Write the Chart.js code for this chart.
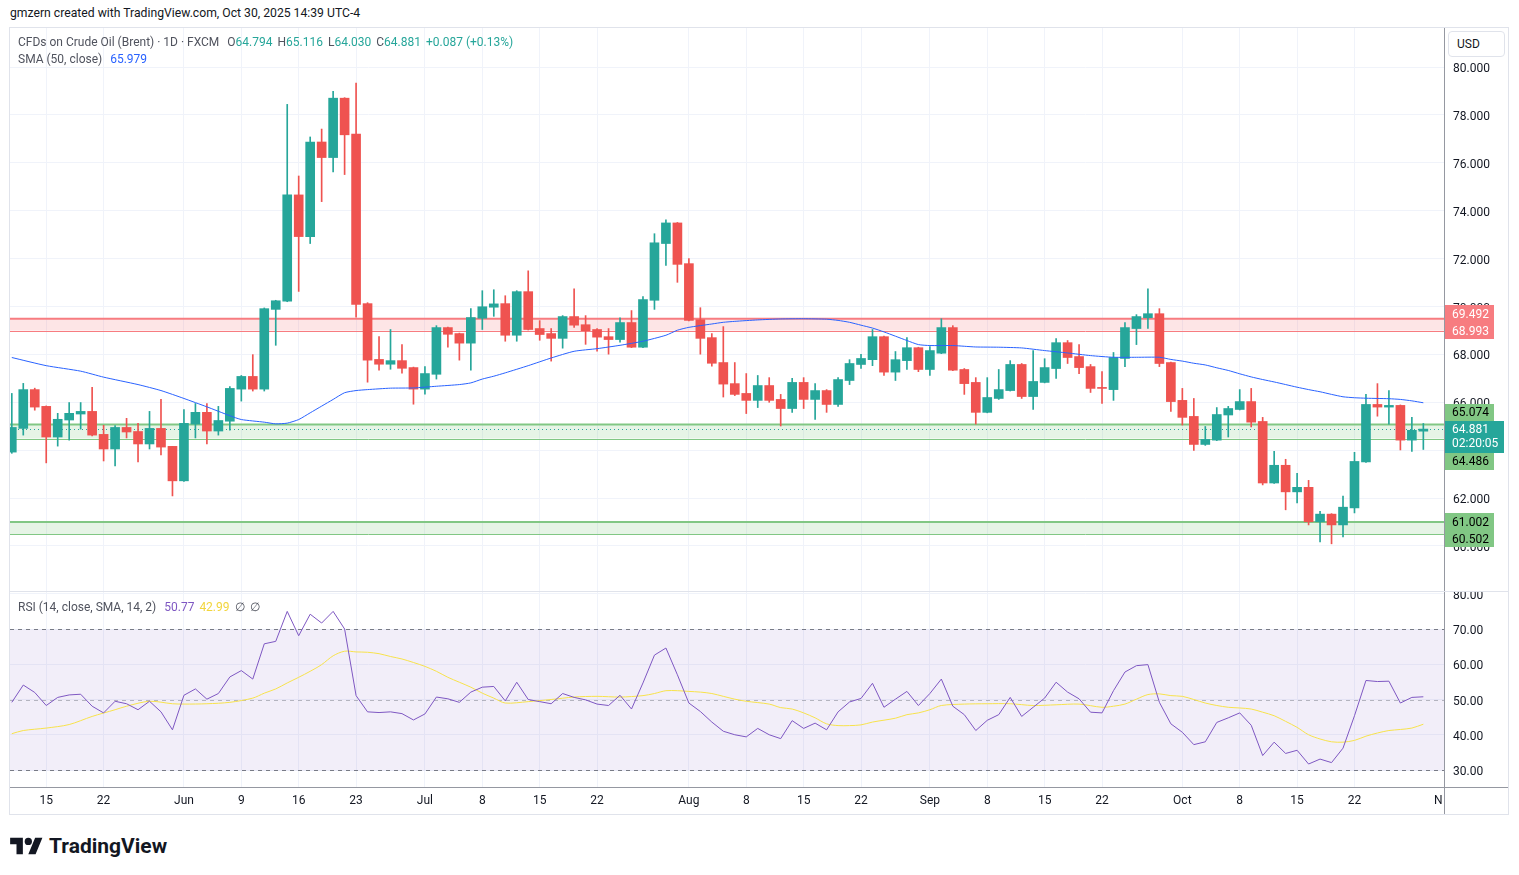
<!DOCTYPE html>
<html>
<head>
<meta charset="utf-8">
<script src="https://cdn.jsdelivr.net/npm/chart.js@4/dist/chart.umd.min.js"></script>
<style>
  body { margin: 0; background: #fff; width: 1519px; height: 875px; overflow: hidden; position: relative;
         font-family: Roboto, "Noto Sans", sans-serif; color: #131722; }
  canvas { position: absolute; }
  .abs { position: absolute; white-space: nowrap; }
  #credit { left: 10px; top: 6px; font-size: 12.2px; }
  #frame { left: 9px; top: 27px; width: 1500px; height: 788px; border: 1px solid #e0e3eb; box-sizing: border-box; }
  .leg { font-size: 12px; color: #50535e; z-index: 3; }
  .leg .v { color: #26a69a; }
  .leg .g { margin-left: 5px; }
  #usd { left: 1448px; top: 31px; width: 57px; height: 26px; border: 1px solid #e0e3eb; border-radius: 4px;
         box-sizing: border-box; font-size: 12px; line-height: 24px; padding-left: 8px; background: #fff; z-index: 3; }
  .sep { position: absolute; z-index: 2; }
  #logo { left: 10px; top: 834px; display: flex; align-items: center; gap: 6px; font-size: 21px; font-weight: bold; color: #131722; }
</style>
</head>
<body>
<div id="credit" class="abs">gmzern created with TradingView.com, Oct 30, 2025 14:39 UTC-4</div>
<div id="frame" class="abs"></div>

<canvas id="price" width="1498" height="563" style="left:10px;top:28px"></canvas>
<canvas id="rsi" width="1498" height="222" style="left:10px;top:592px"></canvas>

<div class="sep" style="left:1444px;top:28px;width:1px;height:786px;background:#9598a1"></div>
<div class="sep" style="left:10px;top:591px;width:1498px;height:1px;background:#e0e3eb"></div>
<div class="sep" style="left:10px;top:787px;width:1498px;height:1px;background:#9598a1"></div>

<div id="usd" class="abs">USD</div>

<div class="abs leg" style="left:18px;top:35px">CFDs on Crude Oil (Brent) · 1D · FXCM
  <span class="g">O<span class="v">64.794</span></span><span class="g">H<span class="v">65.116</span></span><span class="g">L<span class="v">64.030</span></span><span class="g">C<span class="v">64.881</span></span><span class="g v">+0.087 (+0.13%)</span></div>
<div class="abs leg" style="left:18px;top:52px">SMA (50, close) <span class="g" style="color:#2962ff">65.979</span></div>
<div class="abs leg" style="left:18px;top:600px">RSI (14, close, SMA, 14, 2) <span class="g" style="color:#7e57c2">50.77</span><span class="g" style="color:#f2d53c">42.99</span><span class="g">∅</span><span class="g">∅</span></div>

<div id="logo" class="abs">
  <svg width="33" height="20" viewBox="0 0 36 22"><path d="M14 20H7V9H0V2h14v18zM28 20h-8l7.5-18h8L28 20z" fill="#131722"/><circle cx="20" cy="6" r="4" fill="#131722"/></svg>
  <span>TradingView</span>
</div>

<script>
// daily candles, FXCM Brent CFD, 12 May 2025 (index 0) .. 30 Oct 2025 (index 123)
const open = [
  63.92, 64.91, 66.53, 65.83, 64.55, 65.26, 65.51, 65.62, 64.66, 64.05,
  64.95, 64.78, 64.26, 64.91, 64.16, 62.72, 65.09, 65.58, 64.80, 65.21,
  66.55, 67.08, 66.55, 69.88, 70.22, 74.66, 72.92, 76.87, 76.22, 78.70,
  77.20, 70.12, 67.79, 67.59, 67.74, 67.45, 66.55, 67.17, 69.12, 68.87,
  68.47, 69.51, 69.97, 70.12, 68.80, 70.62, 69.08, 68.87, 68.67, 69.58,
  69.24, 69.04, 68.74, 68.62, 69.33, 68.30, 70.26, 72.63, 73.49, 71.79,
  69.45, 68.70, 67.66, 66.78, 66.37, 66.08, 66.70, 66.12, 65.74, 66.83,
  66.12, 66.49, 65.91, 66.91, 67.58, 67.78, 68.74, 67.26, 67.74, 68.28,
  67.37, 68.05, 69.12, 67.37, 66.83, 65.58, 66.16, 66.49, 67.58, 66.24,
  66.83, 67.41, 68.49, 67.91, 67.49, 66.62, 66.53, 67.83, 69.08, 69.53,
  69.70, 67.66, 66.08, 65.41, 64.24, 64.42, 65.47, 65.70, 66.03, 65.20,
  62.63, 63.37, 62.26, 62.45, 61.01, 61.33, 60.88, 61.59, 63.51, 65.91,
  65.80, 65.87, 64.42, 64.794
];
const high = [
  66.37, 66.79, 66.59, 65.85, 65.54, 65.99, 65.99, 66.62, 65.04, 65.03,
  65.33, 65.12, 65.62, 66.12, 64.16, 65.70, 65.95, 65.95, 65.83, 66.66,
  67.12, 67.99, 69.94, 70.26, 78.44, 75.45, 77.08, 77.41, 78.99, 78.72,
  79.33, 70.16, 68.74, 69.04, 68.41, 67.47, 67.49, 69.20, 69.14, 68.89,
  69.91, 70.66, 70.70, 70.45, 70.66, 71.49, 69.41, 69.08, 69.62, 70.74,
  69.62, 69.08, 69.08, 69.53, 69.83, 70.41, 73.04, 73.62, 73.51, 72.00,
  69.95, 68.87, 69.16, 67.66, 67.20, 67.12, 67.03, 66.33, 67.00, 67.03,
  66.78, 66.53, 67.03, 67.78, 68.00, 69.04, 68.76, 68.12, 68.70, 68.30,
  68.33, 69.49, 69.20, 67.41, 67.03, 67.03, 67.37, 67.74, 67.62, 68.16,
  67.82, 68.66, 68.58, 68.41, 67.58, 67.28, 68.08, 69.33, 69.66, 70.74,
  69.91, 67.68, 66.58, 66.16, 64.99, 65.78, 65.83, 66.53, 66.58, 65.37,
  63.95, 63.62, 63.03, 62.74, 61.45, 61.35, 62.08, 63.91, 66.33, 66.78,
  66.49, 65.89, 65.37, 65.116
];
const low = [
  63.87, 64.63, 65.67, 63.47, 64.17, 64.42, 64.88, 64.60, 63.55, 63.34,
  64.51, 63.51, 64.05, 63.80, 62.09, 62.70, 64.51, 64.26, 64.63, 64.84,
  66.05, 66.47, 66.47, 68.38, 70.20, 70.63, 72.63, 74.38, 75.62, 75.51,
  69.55, 66.84, 67.34, 67.38, 67.22, 65.92, 66.34, 66.97, 68.30, 67.76,
  67.34, 69.04, 69.59, 68.55, 68.55, 69.02, 68.59, 67.72, 68.26, 69.13,
  68.42, 68.13, 68.01, 68.51, 68.28, 68.28, 69.88, 71.72, 71.01, 69.40,
  68.01, 67.51, 66.22, 66.28, 65.53, 65.78, 66.00, 65.01, 65.58, 65.74,
  65.28, 65.58, 65.83, 66.74, 67.41, 67.53, 67.12, 66.91, 67.37, 67.28,
  67.12, 68.03, 67.32, 66.33, 65.09, 65.56, 66.12, 66.47, 66.16, 65.70,
  66.81, 67.00, 67.62, 67.20, 66.41, 65.95, 66.08, 67.49, 68.41, 69.08,
  67.49, 65.62, 65.05, 63.99, 64.20, 64.40, 64.55, 65.68, 64.97, 62.55,
  62.61, 61.51, 61.80, 60.88, 60.17, 60.09, 60.38, 61.38, 63.49, 65.42,
  65.09, 64.01, 63.95, 64.030
];
const close = [
  64.95, 66.53, 65.80, 64.55, 65.29, 65.54, 65.62, 64.63, 64.05, 64.95,
  64.76, 64.26, 64.91, 64.13, 62.72, 65.12, 65.58, 64.80, 65.24, 66.58,
  67.08, 66.55, 69.91, 70.24, 74.66, 72.92, 76.87, 76.22, 78.70, 77.17,
  70.09, 67.76, 67.59, 67.74, 67.42, 66.55, 67.20, 69.12, 68.84, 68.47,
  69.54, 69.99, 70.11, 68.80, 70.62, 69.04, 68.83, 68.67, 69.58, 69.22,
  68.99, 68.72, 68.62, 69.33, 68.30, 70.29, 72.66, 73.49, 71.76, 69.42,
  68.67, 67.63, 66.76, 66.33, 66.08, 66.70, 66.08, 65.74, 66.83, 66.12,
  66.49, 65.91, 66.95, 67.62, 67.83, 68.74, 67.26, 67.78, 68.28, 67.37,
  68.16, 69.12, 67.34, 66.78, 65.58, 66.20, 66.53, 67.58, 66.24, 66.87,
  67.45, 68.49, 67.87, 67.45, 66.58, 66.58, 67.87, 69.12, 69.58, 69.70,
  67.62, 66.03, 65.37, 64.24, 64.45, 65.49, 65.74, 66.03, 65.17, 62.63,
  63.37, 62.26, 62.45, 61.01, 61.33, 60.88, 61.62, 63.53, 65.91, 65.80,
  65.87, 64.42, 64.83, 64.881
];

// SMA(50, close)
const smaIdx = [0, 3, 6, 8, 11, 13, 15, 17, 19, 20, 22, 23, 24, 25, 26, 27, 28, 29, 30, 31,
  33, 35, 37, 39, 40, 41, 42, 43, 45, 47, 49, 51, 53, 55, 57, 58, 59, 61, 62, 63,
  65, 67, 69, 71, 72, 73, 74, 75, 76, 77, 78, 79, 80, 82, 83, 84, 86, 88, 90, 92,
  94, 96, 98, 100, 101, 102, 103, 104, 105, 106, 107, 108, 109, 110, 111, 112, 113, 114, 115, 116,
  117, 118, 119, 120, 121, 122, 123];
const smaVal = [67.87, 67.53, 67.30, 67.05, 66.74, 66.49, 66.16, 65.81, 65.44, 65.28, 65.17, 65.10, 65.13, 65.28, 65.56, 65.84, 66.12, 66.40, 66.49, 66.53,
  66.59, 66.60, 66.67, 66.74, 66.81, 66.97, 67.09, 67.23, 67.53, 67.85, 68.13, 68.24, 68.38, 68.55, 68.80, 69.01, 69.13, 69.27, 69.34, 69.38,
  69.44, 69.48, 69.49, 69.47, 69.42, 69.34, 69.22, 69.10, 68.94, 68.76, 68.58, 68.41, 68.37, 68.37, 68.34, 68.31, 68.30, 68.27, 68.16, 68.06,
  67.95, 67.88, 67.88, 67.88, 67.79, 67.72, 67.63, 67.56, 67.44, 67.33, 67.19, 67.06, 66.95, 66.85, 66.74, 66.63, 66.53, 66.44, 66.33, 66.23,
  66.19, 66.17, 66.16, 66.15, 66.12, 66.06, 65.98];

// RSI(14) per candle and its SMA(14)
const rsi = [
  49.2, 54.1, 52.0, 48.3, 50.6, 51.3, 51.5, 48.1, 46.2, 49.5,
  48.8, 47.1, 49.5, 46.5, 41.4, 51.2, 53.0, 50.1, 51.7, 56.4,
  58.2, 55.8, 65.8, 66.5, 75.0, 68.1, 74.2, 71.7, 75.0, 70.0,
  51.1, 46.5, 46.3, 46.5, 46.0, 44.2, 45.9, 50.7, 50.2, 49.2,
  52.1, 53.5, 53.7, 49.6, 54.9, 50.0, 49.4, 48.8, 51.7, 50.6,
  49.9, 48.7, 48.3, 51.2, 47.3, 54.7, 62.6, 64.6, 57.0, 49.0,
  46.6, 43.6, 41.0, 40.0, 39.4, 41.8, 40.0, 38.9, 44.0, 41.8,
  43.3, 41.4, 46.5, 49.3, 50.3, 54.6, 47.8, 50.1, 52.3, 48.3,
  51.7, 55.8, 48.1, 45.7, 41.2, 44.1, 45.7, 50.6, 45.2, 47.8,
  50.4, 54.9, 52.1, 50.2, 46.4, 46.2, 52.5, 57.8, 59.6, 59.9,
  49.2, 43.1, 40.7, 37.2, 38.0, 43.5, 44.8, 46.2, 42.7, 34.1,
  37.9, 34.7, 35.6, 31.7, 33.1, 32.1, 36.2, 45.4, 55.4, 55.1,
  55.2, 49.0, 50.6, 50.77
];
const rsiMaIdx = [0, 1, 3, 5, 7, 9, 10, 12, 14, 15, 17, 19, 21, 22, 23, 24, 25, 26, 27, 28,
  29, 30, 31, 32, 33, 34, 35, 36, 37, 38, 39, 40, 41, 42, 43, 45, 47, 49, 51, 53,
  55, 56, 57, 58, 59, 60, 61, 62, 63, 64, 66, 67, 68, 69, 70, 71, 72, 73, 74, 75,
  77, 78, 79, 80, 81, 83, 85, 87, 89, 91, 93, 95, 96, 97, 98, 99, 100, 101, 102, 103,
  104, 105, 106, 107, 108, 109, 110, 111, 112, 113, 114, 115, 116, 117, 118, 119, 120, 121, 122, 123];
const rsiMaVal = [40.3, 41.2, 41.9, 42.9, 45.2, 47.1, 48.1, 49.5, 48.8, 48.7, 48.8, 49.2, 50.4, 51.8, 53.0, 54.7, 56.3, 58.0, 59.9, 62.4,
  63.7, 63.5, 63.4, 63.0, 62.2, 61.5, 60.5, 59.4, 58.0, 56.3, 54.9, 53.5, 51.8, 50.4, 49.0, 49.4, 50.0, 50.7, 50.9, 50.7,
  51.1, 51.7, 52.5, 52.5, 52.3, 52.1, 51.7, 50.9, 50.1, 49.5, 48.7, 47.7, 47.3, 46.2, 44.8, 43.1, 42.6, 42.6, 42.8, 43.6,
  44.7, 45.7, 46.2, 47.1, 48.3, 48.7, 48.8, 48.8, 48.3, 48.5, 48.7, 47.8, 48.1, 48.7, 50.1, 51.4, 51.6, 51.1, 50.9, 50.0,
  49.0, 48.3, 47.8, 47.6, 47.3, 46.4, 45.4, 43.8, 42.1, 40.0, 38.8, 38.0, 37.9, 38.4, 39.6, 40.5, 41.2, 41.5, 41.9, 42.99];

// time axis
const tickIdx = [3, 8, 15, 20, 25, 30, 36, 41, 46, 51, 59, 64, 69, 74, 80, 85, 90, 95, 102, 107, 112, 117, 124.3];
const tickLabels = ['15', '22', 'Jun', '9', '16', '23', 'Jul', '8', '15', '22', 'Aug', '8', '15', '22', 'Sep', '8', '15', '22', 'Oct', '8', '15', '22', 'N'];
const priceTicks = [60, 62, 64, 66, 68, 70, 72, 74, 76, 78, 80];
const rsiTicks = [30, 40, 50, 60, 70, 80];

// drawn zones and axis tags
const zoneTop = [69.492, 65.074, 61.002];
const zoneBottom = [68.993, 64.486, 60.502];
const zoneKind = ['res', 'sup', 'sup'];
const lastPrice = 64.881;
const countdown = '02:20:05';

const UP = '#26a69a', DOWN = '#ef5350', GRID = '#f0f3fa';
const font = { family: 'Roboto, "Noto Sans", sans-serif', size: 12 };

function xScale(showLabels) {
  return {
    type: 'linear', min: -0.157, max: 124.8, offset: false,
    afterBuildTicks: a => { a.ticks = tickIdx.map(v => ({ value: v })); },
    afterFit: a => { a.height = showLabels ? 27 : 0; a.paddingLeft = 0; a.paddingRight = 0; },
    ticks: { display: showLabels, autoSkip: false, maxRotation: 0, padding: 7, color: '#131722', font,
             callback: (v, k) => tickLabels[k] },
    grid: { offset: false, drawTicks: false, color: c => c.index === tickIdx.length - 1 ? 'rgba(0,0,0,0)' : GRID },
    border: { display: false }
  };
}

function yScale(min, max, ticks, digits) {
  return {
    position: 'right', min, max,
    afterBuildTicks: a => { a.ticks = ticks.map(v => ({ value: v })); },
    afterFit: a => { a.width = 64; a.paddingTop = 0; a.paddingBottom = 0; },
    ticks: { padding: 9, labelOffset: 2, color: '#131722', font, crossAlign: 'near', callback: v => v.toFixed(digits) },
    grid: { drawTicks: false, color: GRID },
    border: { display: false }
  };
}

const candleColors = close.map((c, i) => c >= open[i] ? UP : DOWN);

const zonesPlugin = {
  id: 'zones',
  beforeDatasetsDraw(chart) {
    const { ctx, chartArea: a, scales: { y } } = chart;
    ctx.save();
    zoneTop.forEach((t, k) => {
      const y1 = y.getPixelForValue(t), y2 = y.getPixelForValue(zoneBottom[k]);
      const line = zoneKind[k] === 'res' ? '#f77c80' : '#81c784';
      ctx.fillStyle = zoneKind[k] === 'res' ? 'rgba(247,124,128,0.2)' : 'rgba(129,199,132,0.2)';
      ctx.fillRect(a.left, y1, a.right - a.left, y2 - y1);
      ctx.strokeStyle = line;
      ctx.lineWidth = 2;
      ctx.beginPath(); ctx.moveTo(a.left, y1); ctx.lineTo(a.right, y1); ctx.stroke();
      ctx.lineWidth = 1;
      ctx.beginPath(); ctx.moveTo(a.left, Math.round(y2) + 0.5); ctx.lineTo(a.right, Math.round(y2) + 0.5); ctx.stroke();
    });
    const yl = Math.round(y.getPixelForValue(lastPrice)) + 0.5;
    ctx.strokeStyle = UP;
    ctx.setLineDash([1, 3]);
    ctx.beginPath(); ctx.moveTo(a.left, yl); ctx.lineTo(a.right, yl); ctx.stroke();
    ctx.restore();
  },
  afterDraw(chart) {
    const { ctx, chartArea: a, scales: { y } } = chart;
    const h = 17;
    const tags = [];
    zoneTop.forEach((t, k) => {
      const bg = zoneKind[k] === 'res' ? '#f77c80' : '#81c784';
      const fg = zoneKind[k] === 'res' ? '#ffffff' : '#000000';
      tags.push({ v: t, bg, fg }, { v: zoneBottom[k], bg, fg });
    });
    // current price tag is anchored, the others are pushed away from it
    const cy = y.getPixelForValue(lastPrice);
    const curTop = cy - h / 2, curBot = curTop + 2 * h - 2;
    const above = tags.filter(t => t.v > lastPrice).sort((p, q) => p.v - q.v);
    const below = tags.filter(t => t.v <= lastPrice).sort((p, q) => q.v - p.v);
    let lim = curTop;
    above.forEach(t => { t.c = Math.min(y.getPixelForValue(t.v), lim - h / 2); lim = t.c - h / 2; });
    lim = curBot;
    below.forEach(t => { t.c = Math.max(y.getPixelForValue(t.v), lim + h / 2); lim = t.c + h / 2; });
    ctx.save();
    ctx.font = '12px Roboto, "Noto Sans", sans-serif';
    ctx.textBaseline = 'middle';
    tags.forEach(t => {
      ctx.fillStyle = t.bg;
      ctx.fillRect(a.right + 1, Math.round(t.c - h / 2), 49, h);
      ctx.fillStyle = t.fg;
      ctx.fillText(t.v.toFixed(3), a.right + 8, t.c + 1);
    });
    ctx.fillStyle = UP;
    ctx.fillRect(a.right + 1, Math.round(curTop), 59, curBot - curTop);
    ctx.fillStyle = '#ffffff';
    ctx.fillText(lastPrice.toFixed(3), a.right + 8, cy + 1);
    ctx.fillText(countdown, a.right + 8, cy + h - 2);
    ctx.restore();
  }
};

new Chart(document.getElementById('price'), {
  type: 'bar',
  data: {
    datasets: [
      {
        type: 'line', label: 'SMA 50', order: 0,
        data: smaIdx.map((x, k) => ({ x, y: smaVal[k] })),
        borderColor: '#2962ff', borderWidth: 1, pointRadius: 0, tension: 0.2
      },
      {
        label: 'wick', order: 2, grouped: false,
        data: close.map((c, i) => ({ x: i, y: [low[i], high[i]] })),
        backgroundColor: candleColors, barThickness: 1, borderWidth: 0
      },
      {
        label: 'body', order: 1, grouped: false,
        data: close.map((c, i) => ({ x: i, y: [open[i], c] })),
        backgroundColor: candleColors, barThickness: 9, borderWidth: 0, minBarLength: 1
      }
    ]
  },
  options: {
    responsive: false, animation: false, devicePixelRatio: 1,
    layout: { padding: 0 },
    plugins: { legend: { display: false }, tooltip: { enabled: false } },
    scales: {
      x: xScale(false),
      y: yScale(58.12, 81.63, priceTicks, 3)
    }
  },
  plugins: [zonesPlugin]
});

const rsiBand = {
  id: 'rsiBand',
  beforeDatasetsDraw(chart) {
    const { ctx, chartArea: a, scales: { y } } = chart;
    const y70 = Math.round(y.getPixelForValue(70)) + 0.5, y30 = Math.round(y.getPixelForValue(30)) + 0.5;
    const y50 = Math.round(y.getPixelForValue(50)) + 0.5;
    ctx.save();
    ctx.fillStyle = 'rgba(126,87,194,0.1)';
    ctx.fillRect(a.left, y70, a.right - a.left, y30 - y70);
    ctx.setLineDash([4, 4]);
    ctx.lineWidth = 1;
    [[y70, '#787b86'], [y50, 'rgba(120,123,134,0.5)'], [y30, '#787b86']].forEach(([yy, col]) => {
      ctx.strokeStyle = col;
      ctx.beginPath(); ctx.moveTo(a.left, yy); ctx.lineTo(a.right, yy); ctx.stroke();
    });
    ctx.restore();
  }
};

new Chart(document.getElementById('rsi'), {
  type: 'line',
  data: {
    datasets: [
      {
        label: 'RSI', data: rsi.map((v, i) => ({ x: i, y: v })),
        borderColor: '#7e57c2', borderWidth: 1, pointRadius: 0, tension: 0
      },
      {
        label: 'RSI MA', data: rsiMaIdx.map((x, k) => ({ x, y: rsiMaVal[k] })),
        borderColor: '#f7e24b', borderWidth: 1, pointRadius: 0, tension: 0.3
      }
    ]
  },
  options: {
    responsive: false, animation: false, devicePixelRatio: 1,
    layout: { padding: 0 },
    plugins: { legend: { display: false }, tooltip: { enabled: false } },
    scales: {
      x: xScale(true),
      y: yScale(25.18, 80.5, rsiTicks, 2)
    }
  },
  plugins: [rsiBand]
});
</script>
</body>
</html>
